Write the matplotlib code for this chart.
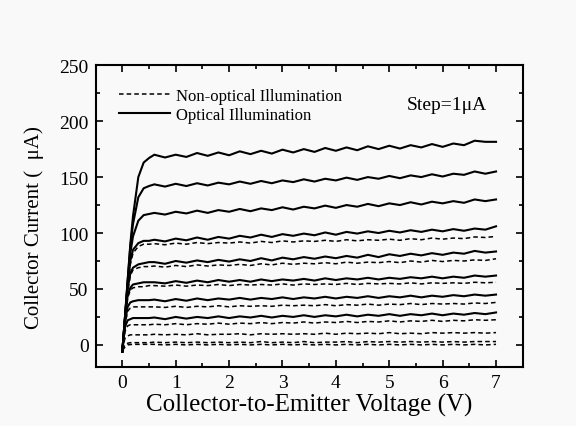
import matplotlib.pyplot as plt
from matplotlib.ticker import MultipleLocator
from matplotlib.lines import Line2D

plt.rcParams['font.family'] = ['Liberation Serif', 'DejaVu Serif']

# sweep voltage (V)
vce = [0, 0.05, 0.1, 0.15, 0.2, 0.3, 0.4, 0.5,
       0.6, 0.8, 1.0, 1.2, 1.4, 1.6, 1.8, 2.0, 2.2, 2.4, 2.6, 2.8, 3.0,
       3.2, 3.4, 3.6, 3.8, 4.0, 4.2, 4.4, 4.6, 4.8, 5.0, 5.2, 5.4, 5.6,
       5.8, 6.0, 6.2, 6.4, 6.6, 6.8, 7.0]

# optical illumination (solid), collector current in uA
opt_1 = [-6, 25, 58, 90, 115, 150, 163, 167,
         170, 167.5, 170, 168, 171.5, 169, 172, 169.5, 173, 170.5, 173.5, 171, 174.5,
         172, 175, 172.5, 176, 173.5, 176.5, 174, 177.5, 175, 178, 175.5, 178.5, 176.5,
         179.5, 177, 180, 178.5, 182.5, 181.5, 181.5]
opt_2 = [-6, 25, 57, 88, 108, 132, 140, 142,
         143.5, 141.5, 144, 142, 144.5, 142.5, 145, 143.5, 146, 144, 146.5, 144.5, 147,
         145.5, 148, 146, 148.5, 147, 149.5, 147.5, 150, 148.5, 151, 149, 151.5, 150,
         152.5, 150.5, 153, 152, 155, 153, 155]
opt_3 = [-6, 24, 55, 82, 97, 111, 116, 117,
         118, 116.5, 119, 117.5, 120, 118, 120.5, 119, 121.5, 119.5, 122, 120.5, 123,
         121, 123.5, 122, 124.5, 122.5, 125, 123.5, 126, 124, 126.5, 125, 127.5, 125.5,
         128, 126.5, 128.5, 127, 130, 128.5, 130]
opt_4 = [-6, 24, 53, 75, 85, 91, 93, 93,
         94, 92.5, 95, 93.5, 96, 94, 96.5, 95, 97.5, 96, 98.5, 96.5, 99,
         97.5, 99.5, 98, 100.5, 98.5, 101, 99.5, 101.5, 100, 102, 100.5, 102.5, 101,
         103, 101.5, 103.5, 102, 104, 103, 106]
opt_5 = [-6, 23, 50, 64, 69, 72, 73, 74,
         74, 72.5, 75, 73.5, 75.5, 74, 76, 74.5, 76.5, 75, 77.5, 75.5, 78,
         76.5, 78.5, 77, 79, 77.5, 79.5, 78, 80.5, 78.5, 81, 79.5, 81.5, 80,
         82, 80.5, 82.5, 81.5, 84, 82.5, 83.5]
opt_6 = [-6, 22, 44, 51, 54, 55, 56, 56,
         56, 55, 57, 55.5, 57.5, 56, 58, 56.5, 58, 56.5, 58.5, 57, 58.5,
         57.5, 59, 57.5, 59.5, 58, 59.5, 58.5, 60, 58.5, 60, 59, 60.5, 59.5,
         61, 59.5, 61, 60, 62, 61, 62]
opt_7 = [-6, 20, 34, 38, 39, 40, 40, 40,
         40.5, 39, 41, 39.5, 41.5, 40, 41.5, 40.5, 42, 40.5, 42, 41, 42.5,
         41, 42.5, 41.5, 43, 41.5, 43, 42, 43.5, 42, 43.5, 42.5, 44, 42.5,
         44, 43, 44.5, 43.5, 45, 44, 45]
opt_8 = [-6, 16, 22, 23, 24, 24, 24, 24,
         24.5, 23, 25, 23.5, 25, 24, 25.5, 24, 25.5, 24.5, 26, 24.5, 26,
         25, 26.5, 25, 26.5, 25.5, 27, 25.5, 27, 26, 27.5, 26, 27.5, 26.5,
         28, 26.5, 28, 27, 28.5, 27.5, 29]

# non-optical illumination (dashed)
dark_1 = [-4, 22, 50, 72, 82, 88, 90, 90,
          90.5, 89.5, 91, 90, 91.5, 90.5, 91.5, 91, 92, 91, 92.5, 91.5, 93,
          92, 93, 92.5, 93.5, 92.5, 94, 93, 94, 93.5, 94.5, 93.5, 95, 94,
          95.5, 94.5, 95.5, 95, 96.5, 96, 97]
dark_2 = [-4, 21, 47, 62, 67, 69, 70, 70,
          70.5, 69.5, 71, 70, 71.5, 70.5, 71.5, 71, 72, 71, 72.5, 71.5, 73,
          72, 73, 72.5, 73.5, 72.5, 74, 73, 74, 73.5, 74.5, 73.5, 75, 74,
          75.5, 74.5, 75.5, 75, 76, 75.5, 77]
dark_3 = [-4, 20, 42, 49, 51, 52, 52, 53,
          53, 52.5, 53.5, 52.5, 53.5, 53, 54, 53, 54, 53.5, 54, 53.5, 54.5,
          53.5, 54.5, 54, 54.5, 54, 55, 54, 55, 54.5, 55, 54.5, 55.5, 54.5,
          55.5, 55, 55.5, 55, 56, 55.5, 56]
dark_4 = [-4, 18, 30, 33, 34, 34, 34, 34,
          34, 33.5, 34.5, 33.5, 34.5, 34, 35, 34, 35, 34.5, 35, 34.5, 35.5,
          35, 35.5, 35, 36, 35, 36, 35.5, 36.5, 35.5, 36.5, 36, 37, 36,
          37, 36.5, 37, 36.5, 37.5, 37, 38]
dark_5 = [-4, 12, 17, 18, 18, 18, 18, 18,
          18.5, 18, 19, 18, 19, 18.5, 19.5, 18.5, 19.5, 19, 20, 19, 20,
          19.5, 20.5, 19.5, 20.5, 20, 21, 20, 21, 20.5, 21.5, 20.5, 21.5, 21,
          22, 21, 22, 21.5, 22.5, 22, 22.5]
dark_6 = [-4, 6, 8, 9, 9, 9, 9, 9,
          9.5, 9, 9.5, 9, 10, 9, 9.5, 9.5, 10, 9, 10, 9.5, 10,
          9.5, 10, 9.5, 10.5, 9.5, 10.5, 10, 10.5, 10, 11, 10, 10.5, 10,
          11, 10.5, 11, 10.5, 11, 10.5, 11]
dark_7 = [-4, 0, 1.5, 2, 2, 2, 2, 2,
          2.5, 2, 2.5, 2, 2.5, 2, 2.5, 2, 2.5, 2, 3, 2, 2.5,
          2, 3, 2, 2.5, 2.5, 3, 2, 3, 2.5, 3, 2.5, 3, 2.5,
          3, 2.5, 3, 2.5, 3, 3, 3]
dark_8 = [-5, -2, 0, 0.3, 0.5, 0.5, 0.5, 0.5,
          0.5, 0, 0.5, 0, 0.5, 0, 0.5, 0, 0.5, 0, 0.5, 0, 0.5,
          0, 0.5, 0, 0.5, 0, 0.5, 0, 0.5, 0, 0.5, 0, 0.5, 0,
          0.5, 0, 0.5, 0, 0.5, 0, 0.5]

optical = [opt_1, opt_2, opt_3, opt_4, opt_5, opt_6, opt_7, opt_8]
dark = [dark_1, dark_2, dark_3, dark_4, dark_5, dark_6, dark_7, dark_8]

fig = plt.figure(figsize=(5.76, 4.27), dpi=100, facecolor='#f9f9f9')
ax = fig.add_axes([0.166, 0.1375, 0.7415, 0.7075])
ax.set_facecolor('#f9f9f9')

for ic in dark:
    ax.plot(vce, ic, color='black', lw=1.1, linestyle=(0, (3, 2)))
for ic in optical:
    ax.plot(vce, ic, color='black', lw=1.5)

ax.set_xlim(-0.5, 7.5)
ax.set_ylim(-20, 250)
ax.xaxis.set_major_locator(MultipleLocator(1))
ax.xaxis.set_minor_locator(MultipleLocator(0.5))
ax.yaxis.set_major_locator(MultipleLocator(50))
ax.yaxis.set_minor_locator(MultipleLocator(25))
ax.tick_params(which='both', direction='in', top=True, right=True,
               labelsize=14, width=1.2)
ax.tick_params(which='major', length=5, pad=5)
ax.tick_params(which='minor', length=3)
for s in ax.spines.values():
    s.set_linewidth(1.5)

ax.set_xlabel('Collector-to-Emitter Voltage (V)', fontsize=18, labelpad=1)
ax.set_ylabel('Collector Current (  μA)', fontsize=15)
ax.yaxis.set_label_coords(-0.12, 0.465)

handles = [Line2D([], [], color='black', lw=1.1, linestyle=(0, (3, 2))),
           Line2D([], [], color='black', lw=1.5)]
ax.legend(handles, ['Non-optical Illumination', 'Optical Illumination'],
          loc='upper left', bbox_to_anchor=(0.02, 0.975), frameon=False,
          fontsize=12, handlelength=3.05, handletextpad=0.35, labelspacing=0.2)
ax.text(0.823, 0.871, 'Step=1μA', transform=ax.transAxes, fontsize=14,
        ha='center', va='center')

fig.savefig('out.png', dpi=100, facecolor=fig.get_facecolor())
